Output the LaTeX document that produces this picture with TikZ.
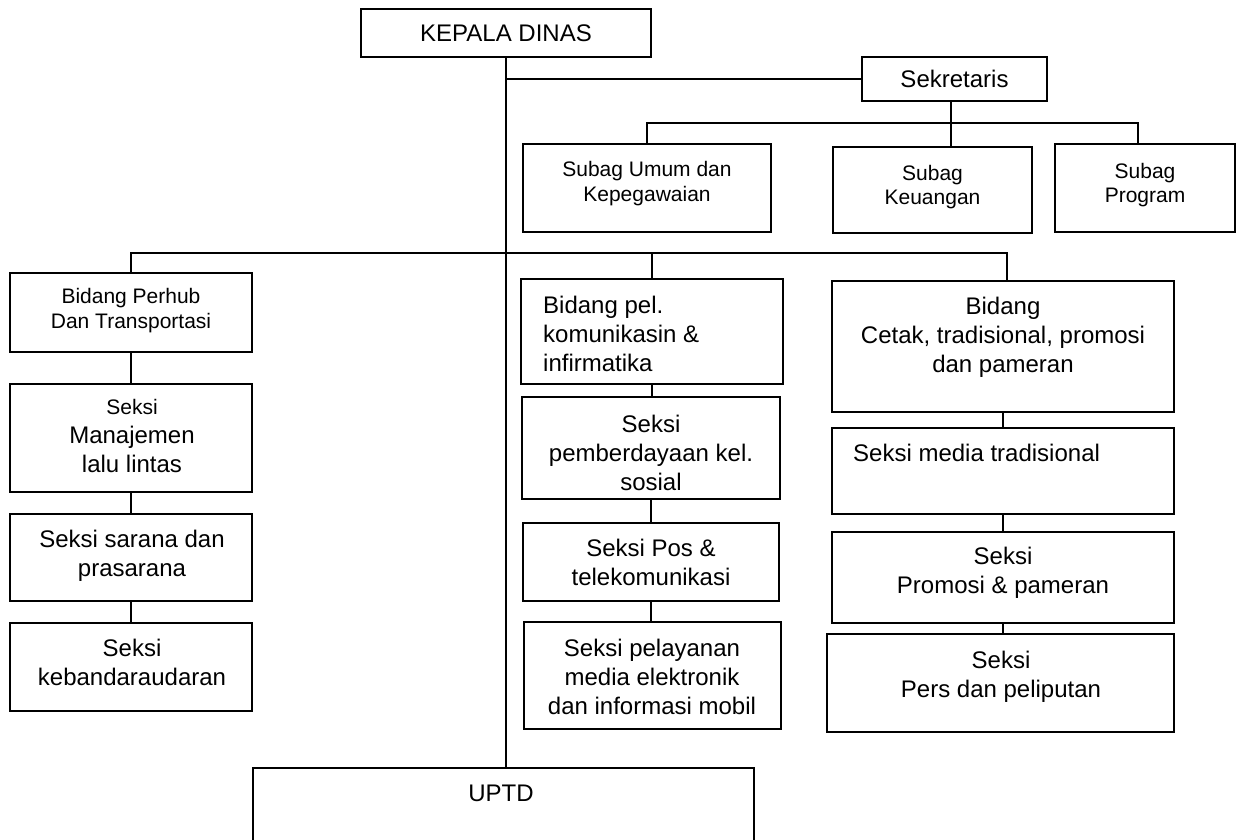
\documentclass[tikz,border=0pt]{standalone}
\usepackage{fontspec}
\setmainfont{Liberation Sans}
\begin{document}
\begin{tikzpicture}[x=1pt,y=-1pt,
  box/.style={draw, line width=2pt, inner sep=0pt, outer sep=0pt},
  big/.style={font=\fontsize{24}{29}\selectfont, align=center, inner sep=0pt},
  small/.style={font=\fontsize{21}{24.5}\selectfont, align=center, inner sep=0pt},
  conn/.style={line width=2pt}]
\fill[white] (0,0) rectangle (1242,839);
\useasboundingbox (0,0) rectangle (1242,839);

% top
\node[box, big, minimum width=290pt, minimum height=48pt] (kepala) at (506,33) {KEPALA DINAS};
\node[box, big, minimum width=185pt, minimum height=44pt] (sek) at (954.5,79) {Sekretaris};

% subag row
\node[box, minimum width=248pt, minimum height=88pt] (umum) at (647,188) {};
\node[small] (t-umum) at (647,183.5) {Subag Umum dan\\Kepegawaian};
\node[box, minimum width=199pt, minimum height=86pt] (keu) at (932.5,190) {};
\node[small] (t-keu) at (932.5,187) {Subag\\Keuangan};
\node[box, minimum width=180pt, minimum height=88pt] (prog) at (1145,188) {};
\node[small] (t-prog) at (1145,185) {Subag\\Program};

% left column
\node[box, minimum width=242pt, minimum height=79pt] (perhub) at (131,312.5) {};
\node[small] (t-perhub) at (131,310.7) {Bidang Perhub\\Dan Transportasi};
\node[box, minimum width=242pt, minimum height=108pt] (manaj) at (131,438) {};
\node[small] (t-manaj1) at (132,407) {Seksi};
\node[big] (t-manaj2) at (132,449) {Manajemen\\lalu lintas};
\node[box, minimum width=242pt, minimum height=87pt] (sarana) at (131,557.5) {};
\node[big] (t-sarana) at (132,556) {Seksi sarana dan\\prasarana};
\node[box, minimum width=242pt, minimum height=88pt] (bandara) at (131,667) {};
\node[big] (t-bandara) at (132,662) {Seksi\\kebandaraudaran};

% middle column
\node[box, minimum width=262pt, minimum height=105pt] (pel) at (652,331.5) {};
\node[big, align=left, anchor=west] (t-pel) at (543,334) {Bidang pel.\\komunikasin \&\\infirmatika};
\node[box, minimum width=258pt, minimum height=102pt] (pemb) at (651,448) {};
\node[big] (t-pemb) at (651,452.5) {Seksi\\pemberdayaan kel.\\sosial};
\node[box, minimum width=256pt, minimum height=78pt] (pos) at (651,562) {};
\node[big] (t-pos) at (651,562.5) {Seksi Pos \&\\telekomunikasi};
\node[box, minimum width=257pt, minimum height=107pt] (pelay) at (652.5,675.5) {};
\node[big] (t-pelay) at (652,677) {Seksi pelayanan\\media elektronik\\dan informasi mobil};

% right column
\node[box, minimum width=342pt, minimum height=131pt] (cetak) at (1003,346.5) {};
\node[big] (t-cetak) at (1003,337) {Bidang\\Cetak, tradisional, promosi\\dan pameran};
\node[box, minimum width=342pt, minimum height=86pt] (media) at (1003,471) {};
\node[big, anchor=west] (t-media) at (853,453) {Seksi media tradisional};
\node[box, minimum width=342pt, minimum height=91pt] (promosi) at (1003,577.5) {};
\node[big] (t-promosi) at (1003,573) {Seksi\\Promosi \& pameran};
\node[box, minimum width=347pt, minimum height=98pt] (pers) at (1000.5,683) {};
\node[big] (t-pers) at (1001,676.5) {Seksi\\Pers dan peliputan};

% bottom
\node[box, minimum width=501pt, minimum height=102pt] (uptd) at (503.5,819) {};
\node[big] (t-uptd) at (501,793) {UPTD};

% connectors
\coordinate (bus1) at (0,123);
\coordinate (bus2) at (0,253);
\draw[conn] (kepala.south) -- (kepala.south |- uptd.north);
\draw[conn] (kepala.south |- sek.west) -- (sek.west);
\draw[conn] ([xshift=-3.5pt]sek.south) -- ([xshift=-3.5pt]sek.south |- keu.north);
\draw[conn] (umum.north) -- (umum.north |- bus1) -- ([xshift=-7pt]prog.north |- bus1) -- ([xshift=-7pt]prog.north);
\draw[conn] (perhub.north) -- (perhub.north |- bus2) -- ([xshift=4pt]cetak.north |- bus2) -- ([xshift=4pt]cetak.north);
\draw[conn] (pel.north |- bus2) -- (pel.north);
\draw[conn] (perhub.south) -- (perhub.south |- manaj.north);
\draw[conn] (manaj.south) -- (manaj.south |- sarana.north);
\draw[conn] (sarana.south) -- (sarana.south |- bandara.north);
\draw[conn] (pel.south) -- (pel.south |- pemb.north);
\draw[conn] (pemb.south) -- (pemb.south |- pos.north);
\draw[conn] (pos.south) -- (pos.south |- pelay.north);
\draw[conn] (cetak.south) -- (cetak.south |- media.north);
\draw[conn] (media.south) -- (media.south |- promosi.north);
\draw[conn] (promosi.south) -- (promosi.south |- pers.north);
\end{tikzpicture}
\end{document}
